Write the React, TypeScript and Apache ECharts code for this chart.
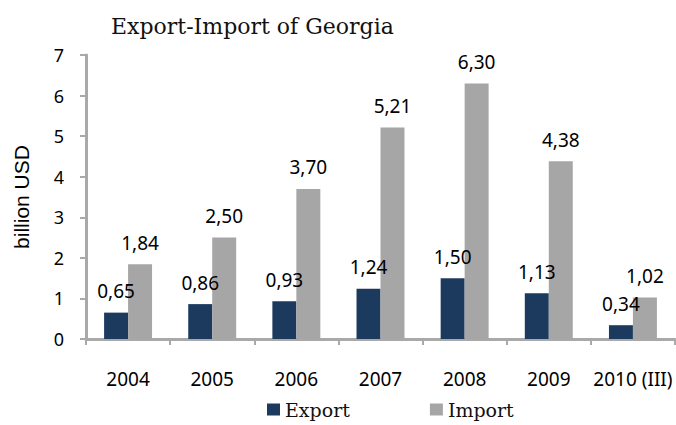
import React, { useEffect, useRef } from "react";
import * as echarts from "echarts";

const years = ["2004", "2005", "2006", "2007", "2008", "2009", "2010 (III)"];
const exportValues = [0.65, 0.86, 0.93, 1.24, 1.5, 1.13, 0.34];
const importValues = [1.84, 2.5, 3.7, 5.21, 6.3, 4.38, 1.02];

const fmt = (v: number) => v.toFixed(2).replace(".", ",");

export default function App() {
  const ref = useRef<HTMLDivElement>(null);
  useEffect(() => {
    const chart = echarts.init(ref.current!, null, { renderer: "svg" });
    const axisColor = "#a9a9a9";
    const sans = "Noto Sans";
    chart.setOption({
      animation: false,
      title: {
        text: "Export-Import of Georgia",
        left: 106,
        top: 10,
        textStyle: { fontFamily: "DejaVu Serif", fontSize: 22, fontWeight: "normal", color: "#111" },
      },
      legend: {
        top: 400,
        left: 267,
        padding: 0,
        itemWidth: 13,
        itemHeight: 12,
        itemGap: 80,
        icon: "rect",
        textStyle: { fontFamily: "DejaVu Serif", fontSize: 19, color: "#111" },
        data: ["Export", "Import"],
      },
      grid: { left: 86, right: 1, top: 55, bottom: 86, containLabel: false },
      xAxis: {
        type: "category",
        data: years,
        axisLine: { lineStyle: { color: axisColor, width: 3 } },
        axisTick: { show: true, length: 6, lineStyle: { color: axisColor, width: 2 } },
        axisLabel: { fontFamily: sans, fontSize: 19, color: "#000", margin: 30, interval: 0 },
      },
      yAxis: {
        type: "value",
        min: 0,
        max: 7,
        interval: 1,
        name: "billion USD",
        nameLocation: "middle",
        nameGap: 54,
        nameTextStyle: { fontFamily: "Liberation Sans", fontSize: 21, color: "#000" },
        splitLine: { show: false },
        axisLine: { show: true, lineStyle: { color: axisColor, width: 3 } },
        axisTick: { show: true, length: 6, lineStyle: { color: axisColor, width: 2 } },
        axisLabel: { fontFamily: sans, fontSize: 18, color: "#000", margin: 22 },
      },
      series: [
        {
          name: "Export",
          type: "bar",
          data: exportValues,
          barGap: "0%",
          barCategoryGap: "43%",
          itemStyle: { color: "#1c3a5e" },
          label: {
            show: true,
            position: "top",
            distance: 12,
            formatter: (p: any) => fmt(p.value),
            fontFamily: sans,
            fontSize: 19,
            color: "#000",
          },
        },
        {
          name: "Import",
          type: "bar",
          data: importValues,
          barGap: "0%",
          barCategoryGap: "43%",
          itemStyle: { color: "#a6a6a6" },
          label: {
            show: true,
            position: "top",
            distance: 12,
            formatter: (p: any) => fmt(p.value),
            fontFamily: sans,
            fontSize: 19,
            color: "#000",
          },
        },
      ],
    });
    return () => chart.dispose();
  }, []);
  return <div ref={ref} style={{ width: 676, height: 425, position: "absolute", left: 0, top: 0 }} />;
}
